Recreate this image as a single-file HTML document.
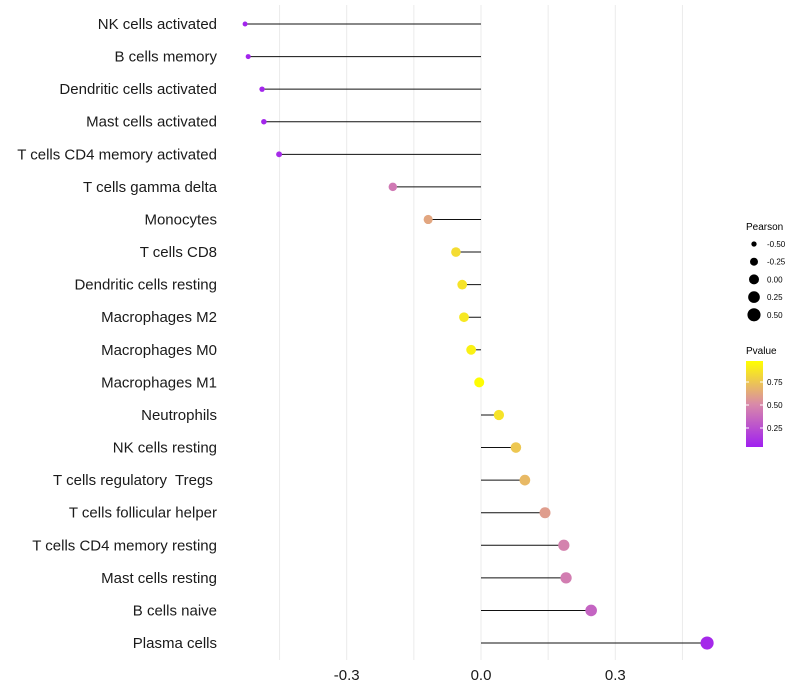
<!DOCTYPE html>
<html><head><meta charset="utf-8"><style>
body{margin:0;background:#fff;font-family:"Liberation Sans",sans-serif}
svg{display:block}
text{white-space:pre}
</style></head><body>
<svg id="chart" width="800" height="700">
<defs><linearGradient id="pg" x1="0" y1="1" x2="0" y2="0">
<stop offset="0" stop-color="#A020F0"/><stop offset="0.5" stop-color="#D98AA8"/><stop offset="1" stop-color="#FFFF00"/>
</linearGradient></defs>
<g id="grid"></g><g id="marks"></g><g id="labels"></g><g id="legend"></g>
</svg>
<script>
const categories=["NK cells activated","B cells memory","Dendritic cells activated","Mast cells activated","T cells CD4 memory activated","T cells gamma delta","Monocytes","T cells CD8","Dendritic cells resting","Macrophages M2","Macrophages M0","Macrophages M1","Neutrophils","NK cells resting","T cells regulatory  Tregs ","T cells follicular helper","T cells CD4 memory resting","Mast cells resting","B cells naive","Plasma cells"];
const pearson=[-0.527,-0.520,-0.489,-0.485,-0.451,-0.197,-0.118,-0.056,-0.042,-0.038,-0.022,-0.004,0.040,0.078,0.098,0.143,0.185,0.190,0.246,0.505];
const pvalue=[0.02,0.02,0.03,0.03,0.05,0.42,0.62,0.85,0.88,0.9,0.94,0.99,0.88,0.76,0.7,0.58,0.46,0.44,0.32,0.04];
const xTicks=[-0.3,0.0,0.3];
const xMinor=[-0.45,-0.15,0.15,0.45];
const legendPearson=[-0.5,-0.25,0,0.25,0.5];
const legendP=[0.75,0.5,0.25];
const NS="http://www.w3.org/2000/svg";
const X=v=>481+v*447.7;
const Y=i=>24+i*32.58;
const R=v=>Math.sqrt(Math.max(3,25+36*v));
function mk(t,a,p){const e=document.createElementNS(NS,t);for(const k in a)e.setAttribute(k,a[k]);p.appendChild(e);return e;}
function lerp(a,b,t){return a.map((v,i)=>Math.round(v+(b[i]-v)*t));}
function col(p){const c0=[160,32,240],c1=[217,138,168],c2=[255,255,0];const c=p<0.5?lerp(c0,c1,p/0.5):lerp(c1,c2,(p-0.5)/0.5);return `rgb(${c})`;}
const grid=document.getElementById('grid'),marks=document.getElementById('marks'),labels=document.getElementById('labels'),leg=document.getElementById('legend');
xMinor.concat(xTicks).forEach(v=>{const l=mk('line',{x1:X(v),x2:X(v),y1:5,y2:660,stroke:'#ebebeb','stroke-width':1},grid);

});
xTicks.forEach(v=>{const t=mk('text',{x:X(v),y:680,'text-anchor':'middle','font-size':15,fill:'#1a1a1a'},labels);t.textContent=v.toFixed(1);

});
categories.forEach((c,i)=>{
const t=mk('text',{x:217,y:Y(i)+5,'text-anchor':'end','font-size':15,fill:'#1a1a1a'},labels);t.textContent=c;


const s=mk('line',{x1:X(0),x2:X(pearson[i]),y1:Y(i),y2:Y(i),stroke:'#111','stroke-width':1},marks);


const d=mk('circle',{cx:X(pearson[i]),cy:Y(i),r:R(pearson[i]),fill:col(pvalue[i])},marks);


});
let t=mk('text',{x:746,y:230,'font-size':10},leg);t.textContent='Pearson';


legendPearson.forEach((v,i)=>{const y=244+i*17.7;
const c=mk('circle',{cx:754,cy:y,r:R(v),fill:'#000'},leg);


const l=mk('text',{x:767,y:y+3,'font-size':8},leg);l.textContent=v.toFixed(2);

});
t=mk('text',{x:746,y:354,'font-size':10},leg);t.textContent='Pvalue';


const bar=mk('rect',{x:746,y:361,width:17,height:86,fill:'url(#pg)'},leg);


legendP.forEach(v=>{const y=451-v*92;
mk('line',{x1:746,x2:749,y1:y,y2:y,stroke:'#fff'},leg);mk('line',{x1:760,x2:763,y1:y,y2:y,stroke:'#fff'},leg);
const l=mk('text',{x:767,y:y+3,'font-size':8},leg);l.textContent=v.toFixed(2);

});
</script>
</body></html>
